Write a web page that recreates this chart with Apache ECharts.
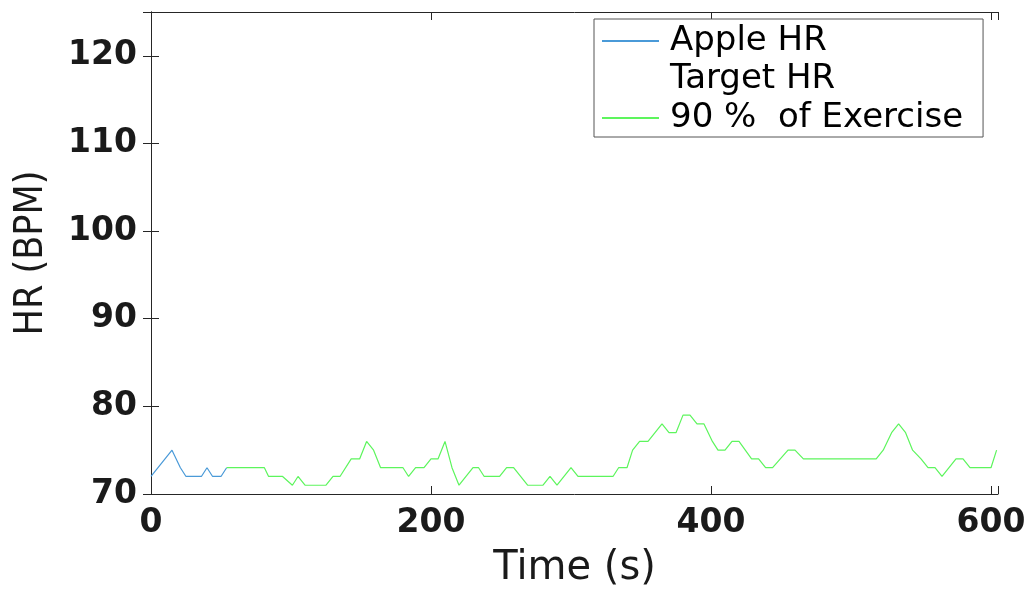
<!DOCTYPE html>
<html>
<head>
<meta charset="utf-8">
<script src="https://cdn.jsdelivr.net/npm/echarts@6/dist/echarts.min.js"></script>
<style>
  html, body { margin: 0; padding: 0; background: #fff; }
  #hr_chart { width: 1033px; height: 594px; }
</style>
</head>
<body>
<div id="hr_chart"></div>
<script>
// 心率数据 (time s, HR bpm)
var appleHR = [
  [0, 72], [15, 75], [21, 73], [25, 72], [36, 72], [40, 73], [44, 72], [50, 72], [54, 73]
]
var targetHR = []
var exercise90 = [
  [54, 73], [81, 73], [84, 72], [94, 72], [101, 71], [105, 72], [110, 71], [125, 71],
  [130, 72], [135, 72], [143, 74], [149, 74], [154, 76], [159, 75], [164, 73], [180, 73],
  [184, 72], [189, 73], [195, 73], [200, 74], [205, 74], [210, 76], [215, 73], [220, 71],
  [230, 73], [234, 73], [238, 72], [249, 72], [254, 73], [259, 73], [269, 71], [280, 71],
  [285, 72], [290, 71], [300, 73], [305, 72], [330, 72], [334, 73], [340, 73], [344, 75],
  [349, 76], [355, 76], [365, 78], [370, 77], [375, 77], [380, 79], [385, 79], [390, 78],
  [395, 78], [401, 76], [405, 75], [410, 75], [415, 76], [420, 76], [429, 74], [434, 74],
  [439, 73], [444, 73], [455, 75], [460, 75], [466, 74], [518, 74], [523, 75], [529, 77],
  [534, 78], [539, 77], [544, 75], [550, 74], [555, 73], [560, 73], [565, 72], [575, 74],
  [580, 74], [585, 73], [600, 73], [604, 75]
]
var xTicks = [0, 200, 400, 600]
var yTicks = [70, 80, 90, 100, 110, 120]

var wideFont = 'DejaVu Sans, sans-serif'
var narrowFont = '"Liberation Sans Narrow", "DejaVu Sans Condensed", sans-serif'
var axisColor = '#262626'

function hideExtra(list) {
  return function (v) { return list.indexOf(v) >= 0 ? String(v) : '' }
}

var hr_chart = echarts.init(document.getElementById('hr_chart'))
var hr_chart_option = {
  backgroundColor: '#fff',
  animation: false,
  grid: { left: 151, right: 35, top: 12, bottom: 100 },
  legend: {
    orient: 'vertical',
    left: 594,
    top: 19,
    padding: [5, 20, 2, 8],
    itemGap: 4.5,
    itemWidth: 57,
    itemHeight: 2,
    backgroundColor: '#fff',
    borderColor: '#555',
    borderWidth: 1,
    borderRadius: 0,
    textStyle: { fontFamily: wideFont, fontSize: 34, color: '#000', padding: [0, 0, 0, 6] },
    data: [
      { name: 'Apple HR', icon: 'rect', itemStyle: { color: '#4a9ad8' } },
      { name: 'Target HR', icon: 'rect', itemStyle: { color: 'rgba(0,0,0,0)' } },
      { name: '90 %  of Exercise', icon: 'rect', itemStyle: { color: '#5df55d' } }
    ]
  },
  xAxis: [
    {
      type: 'value',
      min: 0,
      max: 605,
      interval: 200,
      name: 'Time (s)',
      nameLocation: 'middle',
      nameGap: 55,
      nameTextStyle: { fontFamily: wideFont, fontSize: 40, color: '#1a1a1a' },
      axisLine: { show: true, onZero: false, lineStyle: { color: axisColor, width: 1 } },
      axisTick: { show: true, inside: true, length: 8, lineStyle: { color: axisColor } },
      axisLabel: {
        margin: 13, fontFamily: wideFont, fontSize: 33, fontWeight: 'bold', color: '#1a1a1a',
        formatter: hideExtra(xTicks)
      },
      splitLine: { show: false }
    },
    {
      type: 'value',
      position: 'top',
      min: 0,
      max: 605,
      interval: 200,
      axisLine: { show: true, lineStyle: { color: axisColor, width: 1 } },
      axisTick: { show: true, inside: true, length: 8, lineStyle: { color: axisColor } },
      axisLabel: { show: false },
      splitLine: { show: false }
    }
  ],
  yAxis: [
    {
      type: 'value',
      min: 70,
      max: 125,
      interval: 10,
      name: 'HR (BPM)',
      nameLocation: 'middle',
      nameGap: 100,
      nameTextStyle: { fontFamily: narrowFont, fontSize: 39, color: '#1a1a1a' },
      axisLine: { show: true, onZero: false, lineStyle: { color: axisColor, width: 1 } },
      axisTick: { show: true, inside: true, length: 8, lineStyle: { color: axisColor } },
      axisLabel: {
        margin: 14, fontFamily: wideFont, fontSize: 33, fontWeight: 'bold', color: '#1a1a1a',
        formatter: hideExtra(yTicks)
      },
      splitLine: { show: false }
    },
    {
      type: 'value',
      position: 'right',
      min: 70,
      max: 125,
      interval: 10,
      axisLine: { show: true, lineStyle: { color: axisColor, width: 1 } },
      axisTick: { show: true, inside: true, length: 8, lineStyle: { color: axisColor } },
      axisLabel: { show: false },
      splitLine: { show: false }
    }
  ],
  series: [
    {
      name: 'Apple HR',
      type: 'line',
      data: appleHR,
      showSymbol: false,
      lineStyle: { color: '#4a9ad8', width: 1.2 },
      itemStyle: { color: '#4a9ad8' }
    },
    {
      name: 'Target HR',
      type: 'line',
      data: targetHR,
      showSymbol: false,
      lineStyle: { color: 'rgba(0,0,0,0)' },
      itemStyle: { color: 'rgba(0,0,0,0)' }
    },
    {
      name: '90 %  of Exercise',
      type: 'line',
      data: exercise90,
      showSymbol: false,
      lineStyle: { color: '#5df55d', width: 1.2 },
      itemStyle: { color: '#5df55d' }
    }
  ]
}
hr_chart.setOption(hr_chart_option)

window.addEventListener('resize', function () {
  hr_chart.resize()
})
</script>
</body>
</html>
